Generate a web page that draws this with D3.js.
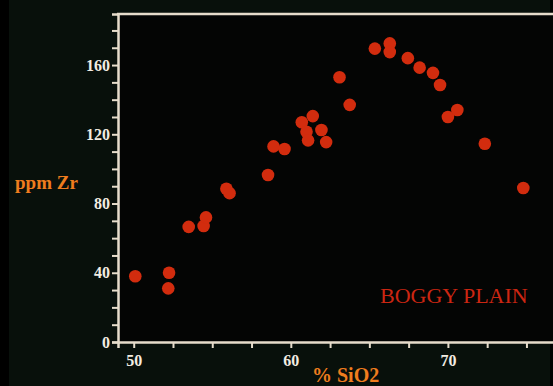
<!DOCTYPE html>
<html>
<head>
<meta charset="utf-8">
<script src="https://cdn.jsdelivr.net/npm/d3@7"></script>
<style>
  body { margin: 0; background: #000; }
  svg { display: block; }
</style>
</head>
<body>
<div id="chart"></div>
<script>
// % SiO2 vs ppm Zr, Boggy Plain
var sio2 = [50.1, 52.25, 52.2, 53.5, 54.45, 54.6, 55.9, 56.1, 58.55, 58.9,
            59.6, 60.7, 61.4, 61.0, 61.1, 61.95, 62.25, 63.1, 63.75, 65.35,
            66.3, 66.3, 67.45, 68.2, 69.05, 69.5, 70.0, 70.6, 72.35, 74.8];
var zr   = [38, 40, 31, 66.5, 67, 72, 88.5, 86, 96.5, 113,
            111.5, 127, 130.5, 121.5, 116.5, 122.5, 115.5, 153, 137, 169.5,
            172.5, 167.5, 164, 158.5, 155.5, 148.5, 130, 134, 114.5, 89];
var xTicks = [50, 52.5, 55, 57.5, 60, 62.5, 65, 67.5, 70, 72.5, 75, 77.5];
var xLabels = [50, 60, 70];
var yTicks = d3.range(0, 190, 10);
var yLabels = [0, 40, 80, 120, 160];

var width = 553, height = 386;

var svg = d3.select("#chart").append("svg")
            .attr("width", width)
            .attr("height", height);

svg.append("rect")
   .attr("x", 9).attr("y", 0)
   .attr("width", width - 12).attr("height", height)
   .attr("fill", "#08100b");

var x = d3.scaleLinear().domain([49, 80]).range([118, 605]);
var y = d3.scaleLinear().domain([0, 189.5]).range([342, 14]);

// plot area
svg.append("rect")
   .attr("x", x(49)).attr("y", y(189.5))
   .attr("width", width - x(49)).attr("height", y(0) - y(189.5))
   .attr("fill", "#040504");

var lineCol = "#e6dccb";

var xAxis = svg.append("g")
               .attr("transform", "translate(0," + y(0) + ")")
               .call(d3.axisBottom(x).tickValues(xTicks).tickSize(6)
                       .tickFormat(function (d) { return xLabels.indexOf(d) >= 0 ? d : ""; }));

var yAxis = svg.append("g")
               .attr("transform", "translate(" + x(49) + ",0)")
               .call(d3.axisLeft(y).tickValues(yTicks).tickSize(6)
                       .tickFormat(function (d) { return yLabels.indexOf(d) >= 0 ? d : ""; }));

[xAxis, yAxis].forEach(function (g) {
  g.select(".domain").attr("stroke", lineCol).attr("stroke-width", 2.5);
  g.selectAll(".tick line").attr("stroke", lineCol).attr("stroke-width", 2);
  g.selectAll(".tick text")
   .attr("fill", "#f2ece2")
   .attr("font-family", "Liberation Serif")
   .attr("font-weight", "bold")
   .attr("font-size", "16px");
});
xAxis.selectAll(".tick text").attr("dy", "0.95em");
yAxis.selectAll(".tick text").attr("x", -8);

// top border
svg.append("line")
   .attr("x1", x(49) - 1).attr("x2", width)
   .attr("y1", y(189.5)).attr("y2", y(189.5))
   .attr("stroke", lineCol)
   .attr("stroke-width", 2.5);

svg.append("g").selectAll("circle")
   .data(sio2)
   .enter().append("circle")
   .attr("cx", function (d) { return x(d); })
   .attr("cy", function (d, i) { return y(zr[i]); })
   .attr("r", 6.3)
   .attr("fill", "#d22c0e");

svg.append("text")
   .attr("x", 15).attr("y", 189)
   .text("ppm Zr")
   .attr("fill", "#ef7d1e")
   .attr("font-family", "Liberation Serif")
   .attr("font-weight", "bold")
   .attr("font-size", "19px");

svg.append("text")
   .attr("x", 312).attr("y", 382)
   .text("% SiO2")
   .attr("fill", "#ef7d1e")
   .attr("font-family", "Liberation Serif")
   .attr("font-weight", "bold")
   .attr("font-size", "20px");

svg.append("text")
   .attr("x", 380).attr("y", 303)
   .text("BOGGY PLAIN")
   .attr("fill", "#cc2612")
   .attr("font-family", "Liberation Serif")
   .attr("font-size", "22px");
</script>
</body>
</html>
